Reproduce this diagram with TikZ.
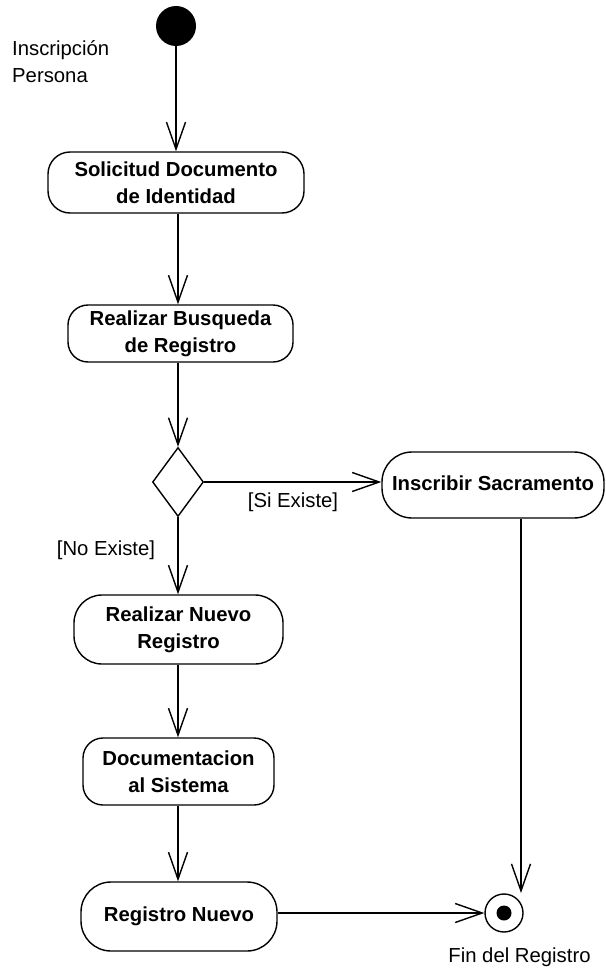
\documentclass[tikz,border=0pt]{standalone}
\usepackage{fontspec}
\setmainfont{Liberation Sans}
\usetikzlibrary{arrows.meta,shapes.geometric}
\begin{document}
\begin{tikzpicture}[x=1pt,y=-1pt,
  every node/.style={font=\fontsize{20.3}{27}\selectfont},
  action/.style={draw,line width=1.4pt,rectangle,inner sep=0pt,align=center,
    font=\fontsize{20.3}{27}\selectfont\bfseries},
  flow/.style={draw,line width=1.4pt,-{Straight Barb[length=27pt,width=19pt,line width=1.4pt]}},
  lbl/.style={inner sep=0pt}]
\useasboundingbox (0,0) rectangle (605,971);

% start and final states
\node[circle,fill=black,minimum size=40pt,inner sep=0pt] (start) at (176,26) {};
\node[circle,draw,line width=1.4pt,minimum size=38pt,inner sep=0pt] (fin) at (504,913) {};
\fill (fin.center) circle (7.5pt);

% actions
\node[action,rounded corners=22pt,minimum width=256pt,minimum height=61pt] (sol) at (176,182.5)
  {Solicitud Documento\\de Identidad};
\node[action,rounded corners=20pt,minimum width=225pt,minimum height=57pt] (bus) at (180.5,333.5)
  {Realizar Busqueda\\de Registro};
\node[draw,line width=1.4pt,diamond,minimum width=51pt,minimum height=69pt,inner sep=0pt] (dec) at (178,482) {};
\node[action,rounded corners=30pt,minimum width=222pt,minimum height=66pt] (ins) at (493,485)
  {\raisebox{3pt}{Inscribir Sacramento}};
\node[action,rounded corners=28pt,minimum width=209pt,minimum height=69pt] (nue) at (178.5,629.5)
  {Realizar Nuevo\\Registro};
\node[action,rounded corners=20pt,minimum width=191pt,minimum height=67pt] (doc) at (178.5,771.5)
  {Documentacion\\al Sistema};
\node[action,rounded corners=30pt,minimum width=196pt,minimum height=69pt] (reg) at (179,916.5)
  {\raisebox{5pt}{Registro Nuevo}};

% texts
\node[lbl,anchor=west,align=left] (tit) at (12,61.5) {Inscripción\\Persona};
\node[lbl] (fintxt) at (519.5,957) {Fin del Registro};
\node[lbl] (si) at (293,502) {[Si Existe]};
\node[lbl] (no) at (106,550) {[No Existe]};

% transitions
\coordinate (fintop) at (521,893);
\draw[flow] (start.south) -- (sol.north -| start);
\draw[flow] (sol.south -| dec) -- (bus.north -| dec);
\draw[flow] (bus.south -| dec) -- (dec.north);
\draw[flow] (dec.east) -- (ins.west |- dec);
\draw[flow] (dec.south) -- (nue.north -| dec);
\draw[flow] (nue.south -| dec) -- (doc.north -| dec);
\draw[flow] (doc.south -| dec) -- (reg.north -| dec);
\draw[flow] (reg.east |- fin) -- (fin.west);
\draw[flow] (ins.south -| fintop) -- (fintop);
\end{tikzpicture}
\end{document}
